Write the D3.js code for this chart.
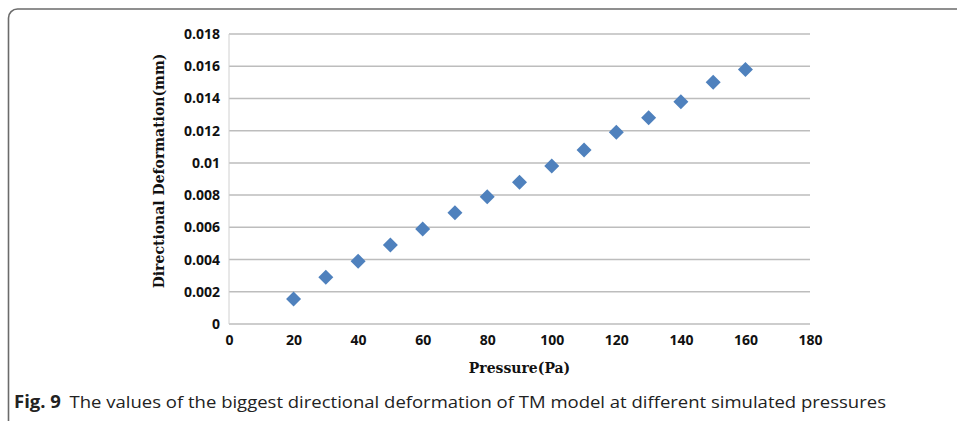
<!DOCTYPE html>
<html>
<head>
<meta charset="utf-8">
<script src="https://cdn.jsdelivr.net/npm/d3@7"></script>
<style>
  html, body { margin: 0; padding: 0; background: #fff; }
  svg { display: block; }
</style>
</head>
<body>
<svg id="chart" width="957" height="421"></svg>
<script>
// pressure (Pa) and biggest directional deformation (mm)
const pressures = [20, 30, 40, 50, 60, 70, 80, 90, 100, 110, 120, 130, 140, 150, 160];
const deformations = [0.00155, 0.0029, 0.0039, 0.0049, 0.0059, 0.0069, 0.0079, 0.0088,
  0.0098, 0.0108, 0.0119, 0.0128, 0.0138, 0.015, 0.0158];
const xTicks = [0, 20, 40, 60, 80, 100, 120, 140, 160, 180];
const yTicks = [0, 0.002, 0.004, 0.006, 0.008, 0.01, 0.012, 0.014, 0.016, 0.018];

const svg = d3.select('#chart');

// panel border (open to the right and bottom)
svg.append('rect')
  .attr('x', 8.5).attr('y', 9)
  .attr('width', 1000).attr('height', 425)
  .attr('rx', 9)
  .attr('fill', 'none')
  .attr('stroke', '#6b6b6b')
  .attr('stroke-width', 1.6);

const x = d3.scaleLinear().domain([0, 180]).range([229, 810]);
const y = d3.scaleLinear().domain([0, 0.018]).range([324, 34]);

const tickFont = '"Open Sans", sans-serif';
const titleFont = '"DejaVu Serif", "Liberation Serif", serif';

// grid
svg.append('g')
  .selectAll('line')
  .data(yTicks)
  .join('line')
    .attr('x1', x(0)).attr('x2', x(180))
    .attr('y1', d => y(d)).attr('y2', d => y(d))
    .attr('stroke', '#bdbdbd')
    .attr('stroke-width', 1.5);

svg.append('line')
  .attr('x1', x(0)).attr('x2', x(0))
  .attr('y1', y(0.018)).attr('y2', y(0))
  .attr('stroke', '#d0d0d0')
  .attr('stroke-width', 1);

// y axis
const yAxis = svg.append('g')
  .attr('transform', `translate(${x(0)},0)`)
  .call(d3.axisLeft(y).tickValues(yTicks).tickSize(0).tickPadding(9)
    .tickFormat(d => d === 0 ? '0' : String(+d.toFixed(3))));
yAxis.select('.domain').remove();
yAxis.selectAll('text')
  .attr('font-family', tickFont)
  .attr('font-weight', 700)
  .attr('font-size', 14)
  .attr('fill', '#111');

// x axis
const xAxis = svg.append('g')
  .attr('transform', `translate(0,${y(0)})`)
  .call(d3.axisBottom(x).tickValues(xTicks).tickSize(0).tickPadding(11));
xAxis.select('.domain').remove();
xAxis.selectAll('text')
  .attr('font-family', tickFont)
  .attr('font-weight', 700)
  .attr('font-size', 14)
  .attr('fill', '#111');

// axis titles
svg.append('text')
  .attr('x', (x(0) + x(180)) / 2)
  .attr('y', 373)
  .attr('text-anchor', 'middle')
  .attr('font-family', titleFont)
  .attr('font-weight', 700)
  .attr('font-size', 14)
  .attr('fill', '#111')
  .text('Pressure(Pa)');

svg.append('text')
  .attr('transform', `translate(164,${(y(0) + y(0.018)) / 2 - 8}) rotate(-90)`)
  .attr('text-anchor', 'middle')
  .attr('font-family', titleFont)
  .attr('font-weight', 700)
  .attr('font-size', 14)
  .attr('fill', '#111')
  .text('Directional Deformation(mm)');

// points
const diamond = 'M0,-7.5L7.5,0L0,7.5L-7.5,0Z';
svg.append('g')
  .selectAll('path')
  .data(pressures.map((p, i) => [p, deformations[i]]))
  .join('path')
    .attr('transform', d => `translate(${x(d[0])},${y(d[1])})`)
    .attr('d', diamond)
    .attr('fill', '#4f81bd');

// caption
const caption = svg.append('text')
  .attr('x', 14)
  .attr('y', 408)
  .attr('font-family', '"Open Sans", sans-serif')
  .attr('font-size', 17)
  .attr('fill', '#222');
caption.append('tspan').attr('font-weight', 700).text('Fig. 9');
caption.append('tspan').attr('dx', 8)
  .text('The values of the biggest directional deformation of TM model at different simulated pressures');
caption.attr('textLength', 872).attr('lengthAdjust', 'spacingAndGlyphs');
</script>
</body>
</html>
